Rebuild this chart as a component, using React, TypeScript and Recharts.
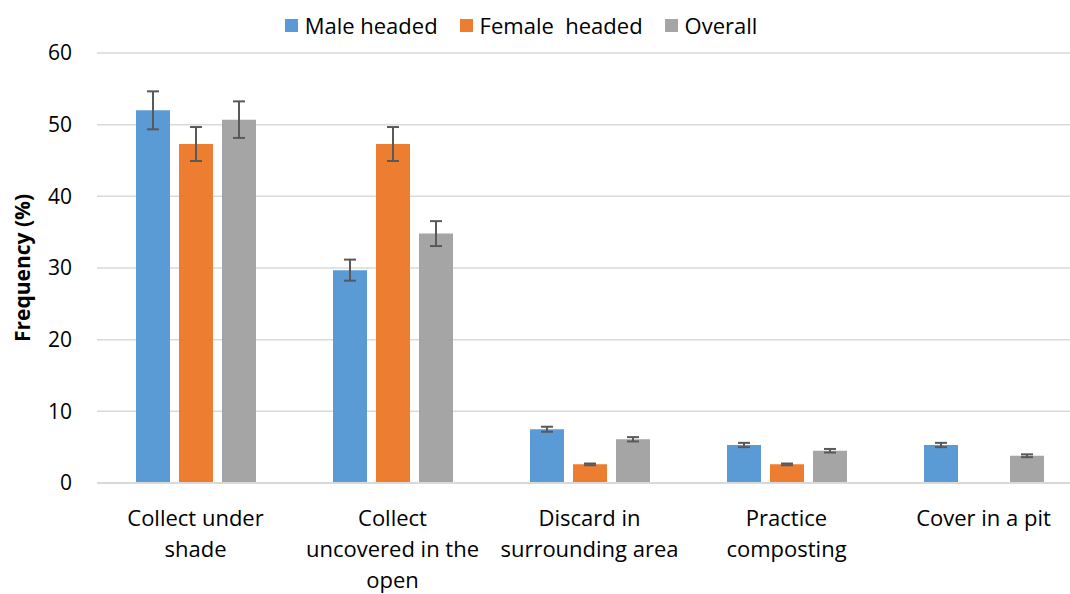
import { Bar, BarChart, CartesianGrid, ErrorBar, Legend, XAxis, YAxis } from 'recharts';

const FONT = '"Open Sans", sans-serif';

const categories = [
  'Collect under shade',
  'Collect uncovered in the open',
  'Discard in surrounding area',
  'Practice composting',
  'Cover in a pit',
];
const categoryLines = [
  ['Collect under', 'shade'],
  ['Collect', 'uncovered in the', 'open'],
  ['Discard in', 'surrounding area'],
  ['Practice', 'composting'],
  ['Cover in a pit'],
];

const maleValues = [52.0, 29.7, 7.5, 5.3, 5.3];
const femaleValues = [47.3, 47.3, 2.6, 2.6, 0];
const overallValues = [50.7, 34.8, 6.1, 4.5, 3.8];

const maleErrors = [2.65, 1.47, 0.35, 0.3, 0.3];
const femaleErrors = [2.37, 2.37, 0.12, 0.12, 0];
const overallErrors = [2.55, 1.74, 0.3, 0.25, 0.2];

const yTicks = [0, 10, 20, 30, 40, 50, 60];

const series = [
  { key: 'male', err: 'maleErr', name: 'Male headed', color: '#5B9BD5' },
  { key: 'female', err: 'femaleErr', name: 'Female  headed', color: '#ED7D31' },
  { key: 'overall', err: 'overallErr', name: 'Overall', color: '#A5A5A5' },
];

const rows = categories.map((name, i) => ({
  name,
  male: maleValues[i],
  female: femaleValues[i],
  overall: overallValues[i],
  maleErr: maleErrors[i],
  femaleErr: femaleErrors[i],
  overallErr: overallErrors[i],
}));

/** Category label broken over the same lines as the source figure. */
function CategoryTick(props: any) {
  const { x, y, payload } = props;
  const idx = categories.indexOf(payload.value);
  const lines = idx >= 0 ? categoryLines[idx] : [payload.value];
  return (
    <text x={x} y={y} textAnchor="middle" fill="#000" fontFamily={FONT} fontSize={22}>
      {lines.map((line, i) => (
        <tspan key={i} x={x} dy={i === 0 ? 43 : 31} style={{ whiteSpace: 'pre' }}>
          {line}
        </tspan>
      ))}
    </text>
  );
}

function YTitle(props: any) {
  const { viewBox } = props;
  const cy = viewBox.y + viewBox.height / 2;
  return (
    <text
      x={22}
      y={cy}
      transform={`rotate(-90, 22, ${cy})`}
      textAnchor="middle"
      dominantBaseline="central"
      fontFamily={FONT}
      fontSize={21}
      fontWeight="bold"
      fill="#000"
    >
      Frequency (%)
    </text>
  );
}

function TopLegend() {
  return (
    <div
      style={{
        display: 'flex',
        justifyContent: 'center',
        alignItems: 'center',
        fontFamily: FONT,
        fontSize: 22,
        color: '#000',
        paddingRight: 28,
      }}
    >
      {series.map((s, i) => (
        <div key={s.key} style={{ display: 'flex', alignItems: 'center', marginLeft: i === 0 ? 0 : 22 }}>
          <span style={{ width: 13, height: 13, background: s.color, display: 'inline-block', marginRight: 7 }} />
          <span style={{ whiteSpace: 'pre' }}>{s.name}</span>
        </div>
      ))}
    </div>
  );
}

export default function App() {
  return (
    <div style={{ position: 'absolute', left: 0, top: 0, width: 1070, height: 594, overflow: 'hidden', background: '#fff' }}>
      <BarChart
        width={1082}
        height={594}
        data={rows}
        margin={{ top: 53, right: 0, bottom: 0, left: 0 }}
        barSize={34}
        barGap={9}
      >
        <CartesianGrid vertical={false} stroke="#d9d9d9" strokeWidth={1.5} />
        <XAxis
          dataKey="name"
          height={111}
          interval={0}
          tickLine={false}
          tickSize={0}
          tickMargin={0}
          axisLine={{ stroke: '#d9d9d9', strokeWidth: 2 }}
          tick={<CategoryTick />}
        />
        <YAxis
          width={97}
          domain={[0, 60]}
          ticks={yTicks}
          interval={0}
          axisLine={false}
          tickLine={false}
          tickSize={0}
          tickMargin={25}
          tick={{ fill: '#000', fontFamily: FONT, fontSize: 21 }}
          label={<YTitle />}
        />
        <Legend
          verticalAlign="middle"
          align="center"
          wrapperStyle={{ top: 10, left: 0, width: 1070 }}
          content={<TopLegend />}
        />
        {series.map((s) => (
          <Bar key={s.key} dataKey={s.key} name={s.name} fill={s.color} isAnimationActive={false}>
            <ErrorBar dataKey={s.err} width={6} stroke="#595959" strokeWidth={2} isAnimationActive={false} />
          </Bar>
        ))}
      </BarChart>
    </div>
  );
}
